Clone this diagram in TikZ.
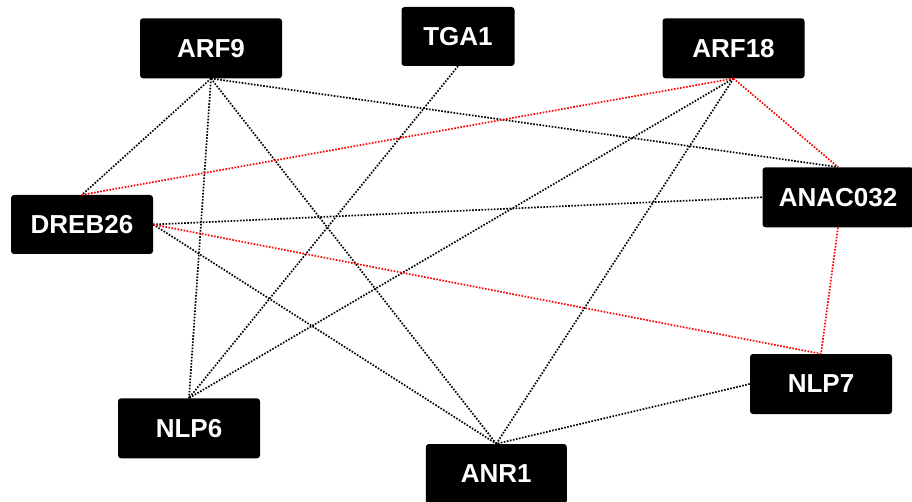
\documentclass[tikz,border=0pt]{standalone}
\usepackage{fontspec}
\setmainfont{Liberation Sans}
\begin{document}
\begin{tikzpicture}[x=1pt,y=-1pt,
  gene/.style={rectangle,fill=black,rounded corners=3pt,inner sep=0pt,
    minimum width=142pt,minimum height=60pt,text=white,
    font=\fontsize{26}{30}\selectfont\bfseries},
  blk/.style={black,line width=1.7pt,dash pattern=on 1.6pt off 1.5pt},
  rd/.style={red,line width=1.7pt,dash pattern=on 1.6pt off 1.5pt}]
\useasboundingbox (0,0) rectangle (912,502);
\node[gene] (ARF9) at (211,48.3) {ARF9};
\node[gene,minimum width=113pt,minimum height=59pt] (TGA1) at (458,36.5) {TGA1};
\node[gene] (ARF18) at (733.5,48.3) {ARF18};
\node[gene,minimum width=151pt] (ANAC032) at (838,197.3) {ANAC032};
\node[gene,minimum height=59pt] (DREB26) at (82,224.5) {DREB26};
\node[gene] (NLP7) at (821,384) {NLP7};
\node[gene] (NLP6) at (189,428.3) {NLP6};
\node[gene,minimum width=141pt] (ANR1) at (496.3,474) {ANR1};
% black edges
\draw[blk] (ARF9.south) -- (DREB26.north);
\draw[blk] (ARF9.south) -- (NLP6.north);
\draw[blk] (ARF9.south) -- (ANR1.north);
\draw[blk] (ARF9.south) -- (ANAC032.north);
\draw[blk] (TGA1.south) -- (NLP6.north);
\draw[blk] (ARF18.south) -- (NLP6.north);
\draw[blk] (ARF18.south) -- (ANR1.north);
\draw[blk] (DREB26.east) -- (ANAC032.west);
\draw[blk] (DREB26.east) -- (ANR1.north);
\draw[blk] (NLP7.west) -- (ANR1.north);
% red edges
\draw[rd] (ARF18.south) -- (DREB26.north);
\draw[rd] (ARF18.south) -- (ANAC032.north);
\draw[rd] (DREB26.east) -- (NLP7.north);
\draw[rd] (ANAC032.south) -- (NLP7.north);
\end{tikzpicture}
\end{document}
